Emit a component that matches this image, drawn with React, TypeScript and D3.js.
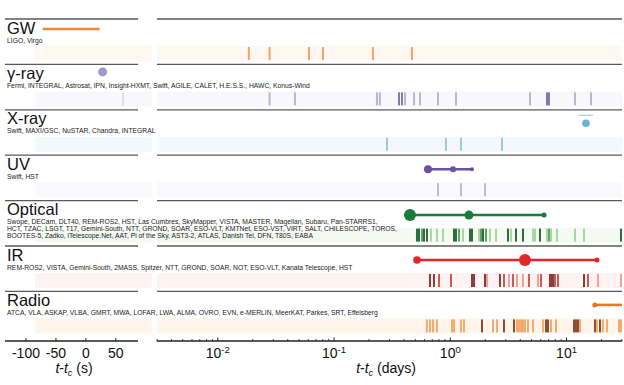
import React from 'react';
import * as d3 from 'd3';

// ---------- DATA ----------
const rowNames = ['GW', 'γ-ray', 'X-ray', 'UV', 'Optical', 'IR', 'Radio'];
const rowFacilities: string[][] = [
  ['LIGO, Virgo'],
  ['Fermi, INTEGRAL, Astrosat, IPN, Insight-HXMT, Swift, AGILE, CALET, H.E.S.S., HAWC, Konus-Wind'],
  ['Swift, MAXI/GSC, NuSTAR, Chandra, INTEGRAL'],
  ['Swift, HST'],
  [
    'Swope, DECam, DLT40, REM-ROS2, HST, Las Cumbres, SkyMapper, VISTA, MASTER, Magellan, Subaru, Pan-STARRS1,',
    'HCT, TZAC, LSGT, T17, Gemini-South, NTT, GROND, SOAR, ESO-VLT, KMTNet, ESO-VST, VIRT, SALT, CHILESCOPE, TOROS,',
    'BOOTES-5, Zadko, iTelescope.Net, AAT, Pi of the Sky, AST3-2, ATLAS, Danish Tel, DFN, T80S, EABA',
  ],
  ['REM-ROS2, VISTA, Gemini-South, 2MASS, Spitzer, NTT, GROND, SOAR, NOT, ESO-VLT, Kanata Telescope, HST'],
  ['ATCA, VLA, ASKAP, VLBA, GMRT, MWA, LOFAR, LWA, ALMA, OVRO, EVN, e-MERLIN, MeerKAT, Parkes, SRT, Effelsberg'],
];

// left panel (seconds)
const leftDomainSec = [-135, 87];
const leftBandSec = [-85, 110];
const leftTickValues = [-100, -50, 0, 50];
const gwSignalSec = [-72, 23];
const gammaGrbSec = [28];
const gammaLeftTickSec = [62];

// right panel (days)
const rightDomainDays = [0.003, 30];
const decadeTicks = [0.01, 0.1, 1, 10];
const decadeExponents = ['-2', '-1', '0', '1'];

const gwTicks = [0.0185, 0.0279, 0.0609, 0.0804, 0.216, 0.468];
const gammaTicks = [0.0279, 0.0461, 0.234, 0.248, 0.362, 0.384, 0.408, 0.488, 0.549, 0.784, 1.12, 4.85, 6.79, 7.06, 11.82, 16.23];
const gammaShade = [1, 1, 1, 1, 0, 0, 1, 1, 1, 1, 1, 1, 0, 0, 1, 1];
const xrayTicks = [0.2855, 0.918, 1.236, 2.785];
const xrayDetection = [14.7];
const xrayCap = [12.8, 16.9];
const uvTicks = [0.784, 1.236, 1.99];
const uvDetections = [0.643, 1.055, 1.537];
const opticalTicks = [
  0.517, 0.538, 0.571, 0.594, 0.63, 0.682, 0.768, 0.865,
  1.076, 1.12, 1.188, 1.286,
  1.477, 1.537, 1.766, 1.837, 1.911, 2.028, 2.195, 2.473,
  3.135, 3.327, 3.675, 4.221,
  5.145, 5.354, 5.909, 6.787, 7.063, 7.348, 8.277,
  11.82, 14.13, 29.4,
];
const opticalShade = [
  0, 0, 1, 0, 0, 2, 2, 2,
  0, 0, 1, 2,
  0, 0, 2, 1, 0, 1, 2, 2,
  0, 2, 0, 0,
  2, 2, 0, 2, 1, 2, 2,
  2, 2, 0,
];
const opticalDetections = [0.45, 1.448, 6.4];
const irTicks = [
  0.669, 0.724, 0.8, 1.014, 1.537, 1.6, 1.988, 2.069, 2.676, 2.897, 3.198, 3.462, 3.748,
  4.221, 4.753, 5.681, 6.029, 7.204, 7.494, 7.644, 7.954, 8.444, 14.13, 15.3, 18.64, 29.4,
];
const irShade = [0, 0, 1, 1, 0, 0, 0, 2, 0, 1, 2, 1, 2, 2, 1, 2, 1, 0, 0, 0, 1, 1, 0, 1, 2, 2];
const irDetections = [0.517, 4.39, 18.28];
const radioTicks = [
  0.63, 0.669, 0.71, 0.768, 1.034, 1.076, 1.236, 1.311, 1.874, 2.33, 2.522, 2.897,
  3.531, 3.748, 3.899, 4.057, 4.221, 4.39, 4.66, 5.145, 6.272, 6.656, 6.924, 7.348, 8.115,
  11.59, 12.06, 12.55, 13.06, 17.56, 18.28, 19.4, 20.58, 22.28, 28.26, 29.4,
];
const radioShade = [
  1, 1, 1, 1, 1, 1, 1, 1, 0, 1, 1, 0,
  0, 1, 1, 1, 1, 1, 1, 1, 1, 0, 0, 1, 1,
  0, 0, 0, 1, 0, 1, 0, 1, 1, 1, 1,
];
const radioDetection = [17.5, 30];

// ---------- STYLES ----------
const FONT = '"Liberation Sans", Arial, Helvetica, sans-serif';
const bandColors = ['#fff7f0', '#f8f7fc', '#f2f8fc', '#f9f8fc', '#f4f9f2', '#fef3f0', '#fff5ea'];
const sepColor = '#5a5a5a';
const detRadii = {
  uv: [4, 3, 2],
  optical: [6, 4.5, 2.5],
  ir: [3.8, 6, 2.5],
};

const W = 624;
const H = 385;
const ROW0 = 19;
const ROWH = 45.4;
const AXIS_Y = 341;

export default function App() {
  const xs = d3.scaleLinear().domain(leftDomainSec).range([5, 138]);
  const xd = d3.scaleLog().domain(rightDomainDays).range([157, 622]);
  const top = (i: number) => ROW0 + i * ROWH;

  const tickBars = (vals: number[], row: number, colorOf: (i: number) => string, key: string) =>
    vals.map((v, i) => (
      <rect key={key + i} x={xd(v) - 1} y={top(row) + 28} width={2} height={13} fill={colorOf(i)} />
    ));

  const minorTicks: number[] = [];
  [0.001, 0.01, 0.1, 1, 10].forEach((d) => {
    for (let k = 2; k <= 9; k++) {
      const v = d * k;
      if (v >= rightDomainDays[0] && v <= rightDomainDays[1]) minorTicks.push(v);
    }
  });

  const detLine = (vals: number[], y: number, color: string, radii: number[], key: string) => (
    <g key={key}>
      <line x1={xd(vals[0])} x2={xd(vals[vals.length - 1])} y1={y} y2={y} stroke={color} strokeWidth={2.5} />
      {vals.map((v, i) => (
        <circle key={i} cx={xd(v)} cy={y} r={radii[i]} fill={color} />
      ))}
    </g>
  );

  const optColors = ['#2f6b3f', '#5aa869', '#a8d8a0'];
  const irColors = ['#8e3b3f', '#c85a58', '#f0a19b'];
  const radioColors = ['#8d4d33', '#f6aa72'];
  const gammaColors = ['#7d79b6', '#b8b5da'];

  return (
    <svg width={W} height={H} style={{ position: 'absolute', left: 0, top: 0, background: '#fff' }} fontFamily={FONT}>
      {/* bands */}
      {rowNames.map((_, i) => (
        <g key={'band' + i}>
          <rect x={xs(leftBandSec[0])} width={xs(leftBandSec[1]) - xs(leftBandSec[0])} y={top(i) + 27} height={15} fill={bandColors[i]} />
          <rect x={xd(rightDomainDays[0])} width={xd(rightDomainDays[1]) - xd(rightDomainDays[0])} y={top(i) + 27} height={15} fill={bandColors[i]} />
        </g>
      ))}

      {/* separators */}
      {rowNames.map((_, i) => (
        <g key={'sep' + i}>
          <line x1={xs.range()[0]} x2={xs.range()[1]} y1={top(i)} y2={top(i)} stroke={sepColor} strokeWidth={1.3} />
          <line x1={xd.range()[0]} x2={xd.range()[1]} y1={top(i)} y2={top(i)} stroke={sepColor} strokeWidth={1.3} />
        </g>
      ))}

      {/* titles */}
      {rowNames.map((n, i) => (
        <g key={'t' + i}>
          <text x={7} y={top(i) + 14.5} fontSize={16.5} fill="#111">{n}</text>
          {rowFacilities[i].map((s, j) => (
            <text key={j} x={7} y={top(i) + 23.5 + j * 6.7} fontSize={6.75} fill="#222">{s}</text>
          ))}
        </g>
      ))}

      {/* left panel marks */}
      <line x1={xs(gwSignalSec[0])} x2={xs(gwSignalSec[1])} y1={top(0) + 10} y2={top(0) + 10} stroke="#f0883a" strokeWidth={2.5} />
      {gammaGrbSec.map((v, i) => (
        <circle key={'gg' + i} cx={xs(v)} cy={top(1) + 7.5} r={4.5} fill="#9e9ac8" />
      ))}
      {gammaLeftTickSec.map((v, i) => (
        <rect key={'glt' + i} x={xs(v) - 0.6} y={top(1) + 28} width={1.2} height={13} fill="#cfcfcf" />
      ))}

      {/* right panel tick bars */}
      {tickBars(gwTicks, 0, () => '#f2a56e', 'gw')}
      {tickBars(gammaTicks, 1, (i) => gammaColors[gammaShade[i]], 'ga')}
      {tickBars(xrayTicks, 2, () => '#9ecae1', 'xr')}
      {tickBars(uvTicks, 3, () => '#bcbad9', 'uv')}
      {tickBars(opticalTicks, 4, (i) => optColors[opticalShade[i]], 'op')}
      {tickBars(irTicks, 5, (i) => irColors[irShade[i]], 'ir')}
      {tickBars(radioTicks, 6, (i) => radioColors[radioShade[i]], 'ra')}

      {/* detections */}
      <line x1={xd(xrayCap[0])} x2={xd(xrayCap[1])} y1={top(2) + 5.5} y2={top(2) + 5.5} stroke="#b0b8c0" strokeWidth={1} />
      {xrayDetection.map((v, i) => (
        <circle key={'xd' + i} cx={xd(v)} cy={top(2) + 13.5} r={3.8} fill="#6baed6" />
      ))}
      {detLine(uvDetections, top(3) + 14, '#6a51a3', detRadii.uv, 'uvd')}
      {detLine(opticalDetections, top(4) + 14.5, '#1b7a3e', detRadii.optical, 'opd')}
      {detLine(irDetections, top(5) + 14, '#e3262b', detRadii.ir, 'ird')}
      <g>
        <line x1={xd(radioDetection[0])} x2={xd(radioDetection[1])} y1={top(6) + 13.5} y2={top(6) + 13.5} stroke="#ec7424" strokeWidth={2.5} />
        <circle cx={xd(radioDetection[0])} cy={top(6) + 13.5} r={2.5} fill="#ec7424" />
      </g>

      {/* axes */}
      <line x1={xs.range()[0]} x2={xs.range()[1]} y1={AXIS_Y} y2={AXIS_Y} stroke="#222" strokeWidth={1.3} />
      <line x1={xd.range()[0]} x2={xd.range()[1]} y1={AXIS_Y} y2={AXIS_Y} stroke="#222" strokeWidth={1.3} />
      {leftTickValues.map((v) => (
        <g key={'lt' + v}>
          <line x1={xs(v)} x2={xs(v)} y1={AXIS_Y} y2={AXIS_Y - 3} stroke="#222" strokeWidth={1} />
          <text x={xs(v)} y={357.5} fontSize={14} textAnchor="middle" fill="#111">{v < 0 ? '-' + Math.abs(v) : String(v)}</text>
        </g>
      ))}
      {minorTicks.map((v, i) => (
        <line key={'mt' + i} x1={xd(v)} x2={xd(v)} y1={AXIS_Y} y2={AXIS_Y - 2} stroke="#222" strokeWidth={0.8} />
      ))}
      {decadeTicks.map((v, i) => (
        <g key={'dt' + i}>
          <line x1={xd(v)} x2={xd(v)} y1={AXIS_Y} y2={AXIS_Y - 3.5} stroke="#222" strokeWidth={1} />
          <text x={xd(v)} y={357.5} fontSize={14} textAnchor="middle" fill="#111">
            10<tspan fontSize={9.5} dy={-5}>{decadeExponents[i]}</tspan>
          </text>
        </g>
      ))}
      <text x={74} y={373} fontSize={14} textAnchor="middle" fill="#111">
        <tspan fontStyle="italic">t</tspan>-<tspan fontStyle="italic">t</tspan>
        <tspan fontStyle="italic" fontSize={9} dy={3}>c</tspan>
        <tspan dy={-3}> (s)</tspan>
      </text>
      <text x={386} y={373} fontSize={14} textAnchor="middle" fill="#111">
        <tspan fontStyle="italic">t</tspan>-<tspan fontStyle="italic">t</tspan>
        <tspan fontStyle="italic" fontSize={9} dy={3}>c</tspan>
        <tspan dy={-3}> (days)</tspan>
      </text>
    </svg>
  );
}
